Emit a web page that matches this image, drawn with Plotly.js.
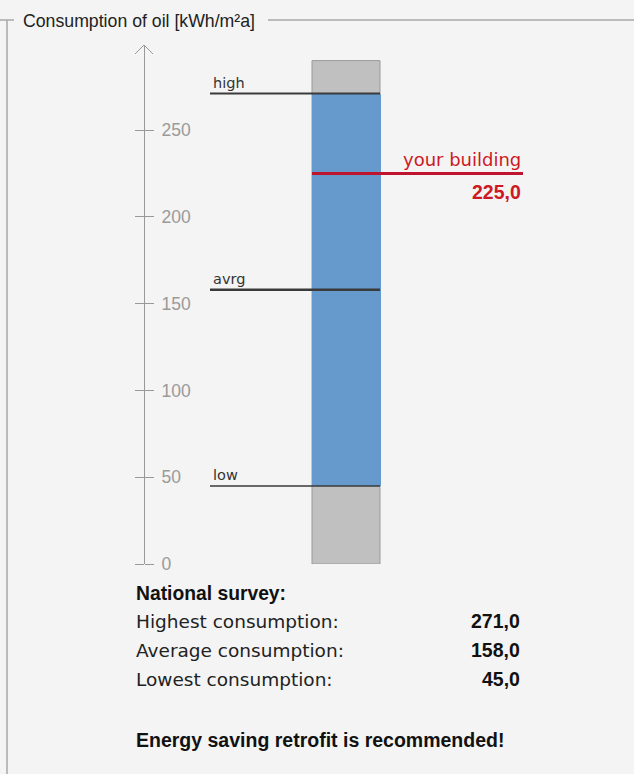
<!DOCTYPE html>
<html>
<head>
<meta charset="utf-8">
<script src="https://cdn.plot.ly/plotly-3.0.1.min.js"></script>
<style>
  html, body { margin: 0; padding: 0; background: #f4f4f4; }
  #chart { width: 634px; height: 774px; }
</style>
</head>
<body>
<div id="chart"></div>
<script>
// ---- data ----
const chartTitle = 'Consumption of oil [kWh/m²a]';
const levelNames = ['high', 'avrg', 'low'];
const surveyLabels = ['Highest consumption:', 'Average consumption:', 'Lowest consumption:'];
const surveyValues = [271.0, 158.0, 45.0];
const buildingLabel = 'your building';
const buildingValue = 225.0;
const scaleTop = 290;          // top of grey column
const axisMax = 299;           // arrow tip
const tickVals = [0, 50, 100, 150, 200, 250];
const tickText = ['0', '50', '100', '150', '200', '250'];
const surveyTitle = 'National survey:';
const recommendation = 'Energy saving retrofit is recommended!';

// ---- helpers ----
const W = 634, H = 774;
const py = p => (H - p) / H;               // pixel row -> paper y
const fmt = v => v.toFixed(1).replace('.', ',');

const barX = 346, barW = 68;
const lineX0 = 210, lineX1 = 380;
const regFont = 'DejaVu Sans, Verdana, sans-serif';
const boldFont = 'Liberation Sans, Arial, sans-serif';

const traces = [
  {
    type: 'bar', x: [barX], y: [scaleTop], base: [0], width: [barW],
    marker: { color: '#c0c0c0', line: { color: '#9a9a9a', width: 1 } },
    hoverinfo: 'skip', showlegend: false
  },
  {
    type: 'bar', x: [barX], y: [surveyValues[0] - surveyValues[2]], base: [surveyValues[2]], width: [barW + 1],
    marker: { color: '#6699cc', line: { width: 0 } },
    hoverinfo: 'skip', showlegend: false
  },
  {
    // invisible carrier so the left-hand tick axis is drawn
    type: 'scatter', mode: 'markers', x: [barX], y: [0], yaxis: 'y2',
    marker: { opacity: 0 }, hoverinfo: 'skip', showlegend: false
  }
];

const shapes = [];
const annotations = [];

// frame (fieldset-like)
const frameColor = '#a8a8a8';
shapes.push({ type: 'line', xref: 'x', yref: 'paper', x0: 7, x1: 7, y0: 0, y1: py(20), line: { color: frameColor, width: 1.5 } });
shapes.push({ type: 'line', xref: 'x', yref: 'paper', x0: 0, x1: 14, y0: py(20), y1: py(20), line: { color: frameColor, width: 1.5 } });
shapes.push({ type: 'line', xref: 'x', yref: 'paper', x0: 268, x1: 634, y0: py(20), y1: py(20), line: { color: frameColor, width: 1.5 } });
annotations.push({ text: chartTitle, xref: 'x', yref: 'paper', x: 21, y: py(21), xanchor: 'left', yanchor: 'middle', showarrow: false,
  font: { family: boldFont, size: 17.7, color: '#222' } });

// axis arrow head
shapes.push({ type: 'path', xref: 'x', yref: 'y', xsizemode: 'pixel', ysizemode: 'pixel', xanchor: 144, yanchor: axisMax,
  path: 'M-9,-9 L0,0 L9,-9', line: { color: '#999', width: 1 } });

// level lines
const lineWidths = [2, 2.5, 1.5];
surveyValues.forEach((v, i) => {
  shapes.push({ type: 'line', xref: 'x', yref: 'y', x0: lineX0, x1: lineX1, y0: v, y1: v, line: { color: '#3a3a3a', width: lineWidths[i] } });
  annotations.push({ text: levelNames[i], xref: 'x', yref: 'y', x: lineX0 + 1, y: v, xanchor: 'left', yanchor: 'bottom', yshift: 1,
    showarrow: false, font: { family: regFont, size: 14.5, color: '#333' } });
});

// your building
shapes.push({ type: 'line', xref: 'x', yref: 'y', x0: 312, x1: 523, y0: buildingValue, y1: buildingValue, line: { color: 'rgb(190,20,45)', width: 3 } });
annotations.push({ text: buildingLabel, xref: 'x', yref: 'y', x: 523, y: buildingValue, xanchor: 'right', yanchor: 'bottom', yshift: 1,
  showarrow: false, font: { family: regFont, size: 18, color: 'rgb(205,25,35)' } });
annotations.push({ text: '<b>' + fmt(buildingValue) + '</b>', xref: 'x', yref: 'y', x: 523, y: buildingValue, xanchor: 'right', yanchor: 'top', yshift: -6,
  showarrow: false, font: { family: boldFont, size: 19.5, color: 'rgb(205,25,35)' } });

// survey text
annotations.push({ text: '<b>' + surveyTitle + '</b>', xref: 'x', yref: 'paper', x: 134, y: py(593), xanchor: 'left', yanchor: 'middle',
  showarrow: false, font: { family: boldFont, size: 19.3, color: '#111' } });
const rowY = [621, 650, 679];
surveyLabels.forEach((lab, i) => {
  annotations.push({ text: lab, xref: 'x', yref: 'paper', x: 134, y: py(rowY[i]), xanchor: 'left', yanchor: 'middle',
    showarrow: false, font: { family: regFont, size: 18.5, color: '#222' } });
  annotations.push({ text: '<b>' + fmt(surveyValues[i]) + '</b>', xref: 'x', yref: 'paper', x: 522, y: py(rowY[i]), xanchor: 'right', yanchor: 'middle',
    showarrow: false, font: { family: boldFont, size: 19.5, color: '#111' } });
});
annotations.push({ text: '<b>' + recommendation + '</b>', xref: 'x', yref: 'paper', x: 134, y: py(740), xanchor: 'left', yanchor: 'middle',
  showarrow: false, font: { family: boldFont, size: 19.5, color: '#111' } });

const yDomain = [(H - 564) / H, (H - 45) / H];
const layout = {
  width: W, height: H,
  margin: { l: 0, r: 0, t: 0, b: 0, pad: 0 },
  paper_bgcolor: '#f4f4f4', plot_bgcolor: '#f4f4f4',
  barmode: 'overlay', bargap: 0,
  showlegend: false,
  xaxis: { range: [0, W], visible: false, fixedrange: true },
  yaxis: {
    domain: yDomain, range: [0, axisMax], anchor: 'free', position: 144 / W, side: 'right',
    showline: true, linecolor: '#999', linewidth: 1,
    ticks: 'outside', ticklen: 9, tickcolor: '#999', tickwidth: 1,
    tickmode: 'array', tickvals: tickVals, ticktext: tickText, ticklabelstandoff: 4,
    tickfont: { family: boldFont, size: 17.5, color: '#9a9a9a' },
    showgrid: false, zeroline: false, fixedrange: true
  },
  yaxis2: {
    overlaying: 'y', range: [0, axisMax], anchor: 'free', position: 144 / W, side: 'left',
    showline: false, ticks: 'outside', ticklen: 9, tickcolor: '#999', tickwidth: 1,
    tickmode: 'array', tickvals: tickVals, showticklabels: false,
    showgrid: false, zeroline: false, fixedrange: true
  },
  shapes: shapes,
  annotations: annotations
};

Plotly.newPlot('chart', traces, layout, { displayModeBar: false, staticPlot: true });
</script>
</body>
</html>
